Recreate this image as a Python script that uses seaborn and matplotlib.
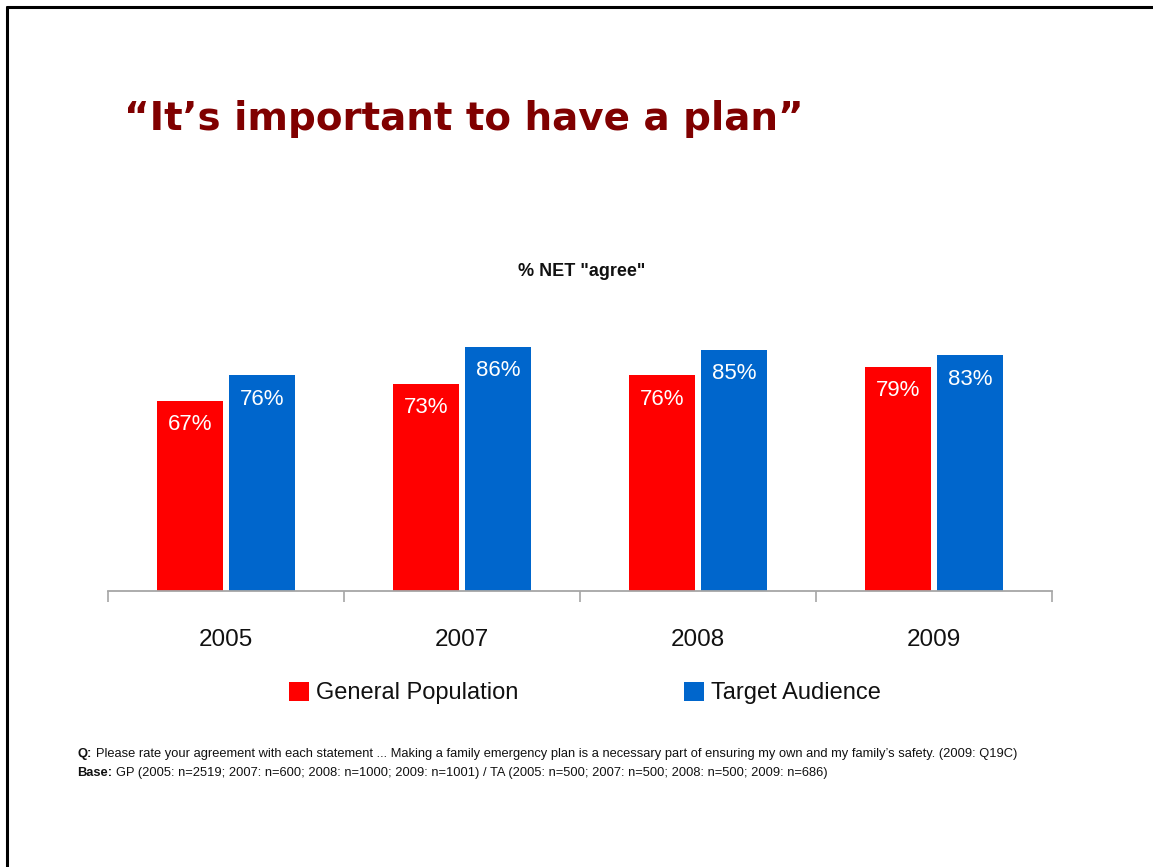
import matplotlib
matplotlib.use("Agg")
import matplotlib.pyplot as plt
from matplotlib.patches import Patch
from matplotlib.lines import Line2D
import seaborn as sns
import pandas as pd

# Survey results: share who agree (NET) per year and audience
years = ["2005", "2007", "2008", "2009"]
general_population = [67, 73, 76, 79]
target_audience = [76, 86, 85, 83]
series_names = ["General Population", "Target Audience"]
series_colors = ["#FF0000", "#0066CC"]

title_text = "\u201cIt\u2019s important to have a plan\u201d"
subtitle_text = '% NET "agree"'
question_note = ("Please rate your agreement with each statement ... Making a family emergency plan "
                 "is a necessary part of ensuring my own and my family\u2019s safety. (2009: Q19C)")
base_note = ("GP (2005: n=2519; 2007: n=600; 2008: n=1000; 2009: n=1001) / "
             "TA (2005: n=500; 2007: n=500; 2008: n=500; 2009: n=686)")

df = pd.DataFrame({
    "year": years * 2,
    "pct": general_population + target_audience,
    "group": [series_names[0]] * len(years) + [series_names[1]] * len(years),
})

sns.set_theme(style="white")
plt.rcParams["font.family"] = ["Liberation Sans", "DejaVu Sans"]

W, H = 1153, 867
fig = plt.figure(figsize=(W / 100, H / 100), dpi=100)
ax = fig.add_axes([108 / W, (H - 591) / H, 944 / W, 284 / H])

sns.barplot(data=df, x="year", y="pct", hue="group", order=years,
            hue_order=series_names, palette=series_colors,
            width=0.615, gap=0.09, saturation=1, linewidth=0,
            legend=False, ax=ax)

ax.set_xlim(-0.5, len(years) - 0.5)
ax.set_ylim(0, 100)
ax.set_xlabel("")
ax.set_ylabel("")
ax.set_yticks([])

for side in ["left", "right", "top"]:
    ax.spines[side].set_visible(False)
ax.spines["bottom"].set_color("#A6A6A6")
ax.spines["bottom"].set_linewidth(1.3)

# tick marks at category boundaries, year labels at category centres
ax.set_xticks([i - 0.5 for i in range(len(years) + 1)], [""] * (len(years) + 1))
ax.tick_params(axis="x", which="major", length=8, width=1.2, color="#A6A6A6",
               direction="out", bottom=True)
ax.set_xticks(range(len(years)), years, minor=True)
ax.tick_params(axis="x", which="minor", length=0, pad=27, labelsize=17.5,
               labelcolor="#111111")

# value labels inside the top of each bar
for container in ax.containers:
    ax.bar_label(container, labels=[f"{v:.0f}%" for v in container.datavalues],
                 label_type="edge", padding=-25, color="white", fontsize=16)

# legend below the year labels
handles = [Patch(facecolor=c, edgecolor="none") for c in series_colors]
fig.legend(handles, series_names, loc="center left",
           bbox_to_anchor=(289 / W, 1 - 693 / H), ncol=2,
           frameon=False, fontsize=17, labelcolor="#111111",
           handlelength=0.85, handleheight=0.9,
           handletextpad=0.3, columnspacing=7.0, borderaxespad=0,
           borderpad=0)

# titles
fig.text(124 / W, 1 - 130 / H, title_text, fontsize=28, fontweight="bold",
         color="#800000", ha="left", va="baseline", family="DejaVu Sans")
fig.text(582 / W, 1 - 271 / H, subtitle_text, fontsize=13, fontweight="bold",
         color="#111111", ha="center", va="center")

# footnotes: bold lead-in followed by the note text
note_size = 9.3
for y, lead, body in [(760, "Q:", question_note), (779, "Base:", base_note)]:
    lead_txt = fig.text(77 / W, 1 - y / H, lead, fontsize=note_size,
                        fontweight="bold", color="#111111", ha="left",
                        va="bottom")
    fig.add_artist(plt.Annotation(body, xy=(1, 0), xycoords=lead_txt,
                                  xytext=(3, 0), textcoords="offset points",
                                  fontsize=note_size, color="#111111",
                                  ha="left", va="bottom"))

# slide frame: top and left edges
fig.add_artist(Line2D([6.5 / W, 1], [1 - 6.5 / H, 1 - 6.5 / H],
                      transform=fig.transFigure, color="black", linewidth=2.2))
fig.add_artist(Line2D([6.5 / W, 6.5 / W], [0, 1 - 6.5 / H],
                      transform=fig.transFigure, color="black", linewidth=2.2))

fig.savefig("out.png", dpi=100, facecolor="white")
